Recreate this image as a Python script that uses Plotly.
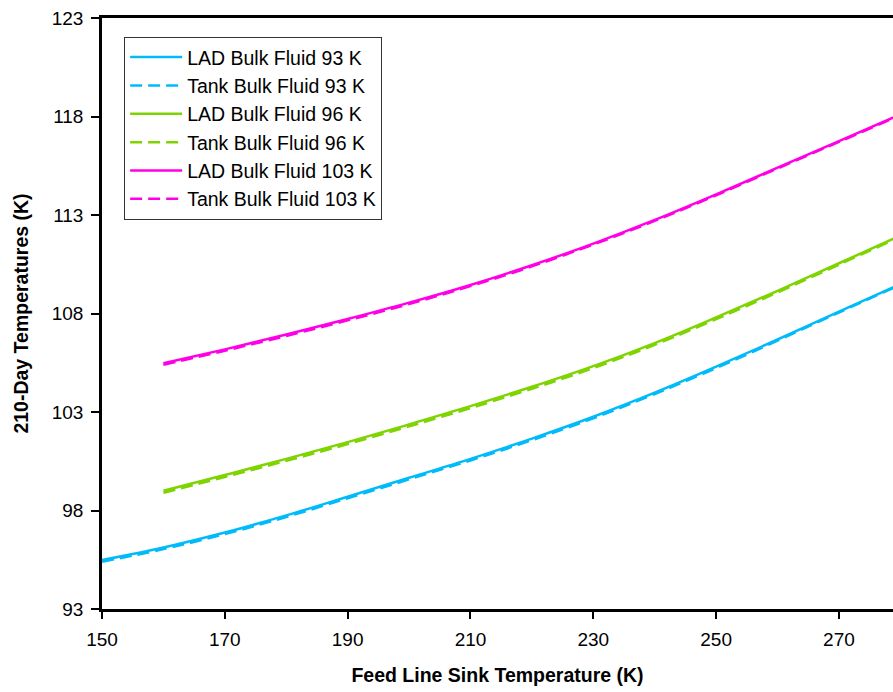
import plotly.graph_objects as go

# Feed line sink temperature (K)
x_93 = [150, 160, 170, 180, 190, 200, 210, 220, 230, 240, 250, 260, 270, 280]
x_96 = [160, 170, 180, 190, 200, 210, 220, 230, 240, 250, 260, 270, 280]
x_103 = [160, 170, 180, 190, 200, 210, 220, 230, 240, 250, 260, 270, 280]

lad_93 = [95.48, 96.12, 96.88, 97.75, 98.7, 99.66, 100.62, 101.65, 102.76, 103.98, 105.3, 106.68, 108.1, 109.5]
tank_93 = [95.4, 96.04, 96.8, 97.67, 98.62, 99.58, 100.54, 101.57, 102.68, 103.91, 105.23, 106.62, 108.05, 109.46]
lad_96 = [99.0, 99.8, 100.62, 101.47, 102.37, 103.3, 104.28, 105.33, 106.5, 107.8, 109.15, 110.55, 111.95]
tank_96 = [98.9, 99.7, 100.52, 101.37, 102.27, 103.2, 104.18, 105.23, 106.41, 107.71, 109.07, 110.48, 111.9]
lad_103 = [105.47, 106.18, 106.93, 107.72, 108.55, 109.45, 110.45, 111.55, 112.75, 114.05, 115.4, 116.75, 118.1]
tank_103 = [105.4, 106.11, 106.86, 107.65, 108.48, 109.39, 110.39, 111.5, 112.7, 114.0, 115.36, 116.71, 118.06]

x_ticks = [150, 170, 190, 210, 230, 250, 270]
y_ticks = [93, 98, 103, 108, 113, 118, 123]

blue = "#00BBFA"
green = "#7DD400"
magenta = "#FF00E6"

series = [
    ("LAD Bulk Fluid 93 K", x_93, lad_93, blue, "solid"),
    ("Tank Bulk Fluid 93 K", x_93, tank_93, blue, "12px,6px"),
    ("LAD Bulk Fluid 96 K", x_96, lad_96, green, "solid"),
    ("Tank Bulk Fluid 96 K", x_96, tank_96, green, "12px,6px"),
    ("LAD Bulk Fluid 103 K", x_103, lad_103, magenta, "solid"),
    ("Tank Bulk Fluid 103 K", x_103, tank_103, magenta, "12px,6px"),
]

fig = go.Figure()
for name, xs, ys, col, dash in series:
    fig.add_trace(go.Scatter(
        x=xs, y=ys, name=name, mode="lines",
        line=dict(color=col, width=2.5, dash=dash, shape="spline", smoothing=1),
    ))

font_family = "Liberation Sans, Arial, sans-serif"

fig.update_layout(
    width=893, height=692,
    margin=dict(l=102, r=0, t=18, b=83, autoexpand=False),
    paper_bgcolor="white", plot_bgcolor="white",
    font=dict(family=font_family, size=19, color="black"),
    showlegend=True,
    legend=dict(
        x=0.028, y=0.968, xanchor="left", yanchor="top",
        bgcolor="white", bordercolor="#333333", borderwidth=1,
        font=dict(family=font_family, size=19.5, color="black"),
        tracegroupgap=0, itemwidth=52,
    ),
    xaxis=dict(
        range=[150, 278.8],
        tickvals=x_ticks,
        ticks="outside", ticklen=7, tickwidth=1.5, tickcolor="black",
        ticklabelstandoff=4,
        showline=True, linecolor="black", linewidth=2.5, mirror=True,
        showgrid=False, zeroline=False,
        tickfont=dict(size=19),
        title=dict(text="<b>Feed Line Sink Temperature (K)</b>", font=dict(size=19.5), standoff=20),
    ),
    yaxis=dict(
        range=[93, 123],
        tickvals=y_ticks,
        ticks="outside", ticklen=8, tickwidth=1.5, tickcolor="black",
        ticklabelstandoff=4,
        showline=True, linecolor="black", linewidth=2.5, mirror=False,
        showgrid=False, zeroline=False,
        tickfont=dict(size=19),
        title=dict(text="<b>210-Day Temperatures (K)</b>", font=dict(size=19.5), standoff=18),
    ),
)

fig.write_html(
    "out.html",
    config={"displayModeBar": False},
    post_script="document.body.style.margin='0px';document.body.style.overflow='hidden';",
)
